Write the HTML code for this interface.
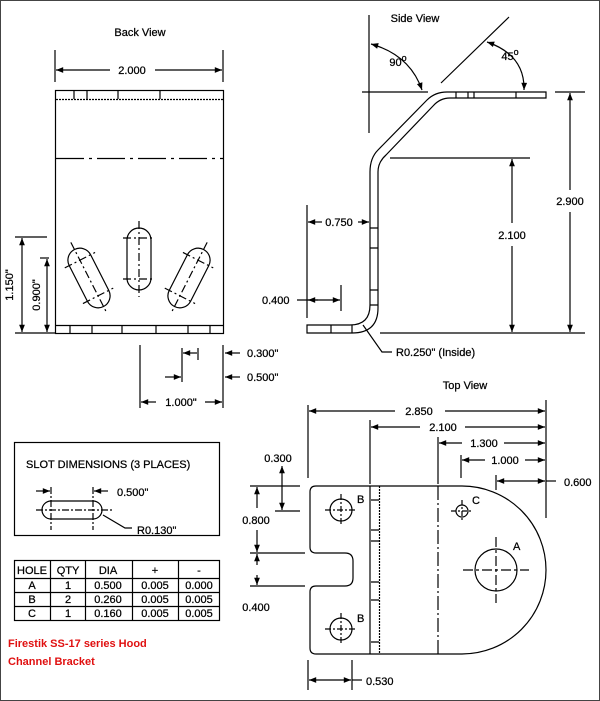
<!DOCTYPE html>
<html><head><style>
html,body{margin:0;padding:0;background:#fff}
svg{display:block}
text{font-family:"Liberation Sans",sans-serif;font-size:11px;fill:#000;stroke:#000;stroke-width:0.25}
</style></head><body>
<svg width="600" height="701" viewBox="0 0 600 701" xmlns="http://www.w3.org/2000/svg">
<defs>
<marker id="a" viewBox="0 0 10 10" refX="10" refY="5" markerWidth="7" markerHeight="6" orient="auto-start-reverse"><path d="M0,1 L10,5 L0,9 z" fill="#000"/></marker>
</defs>
<rect x="0.5" y="0.5" width="599" height="700" fill="#fff" stroke="#444"/>
<g stroke="#000" stroke-width="1.2" fill="none">
<!-- BACK VIEW -->
<line x1="55" y1="50" x2="55" y2="82"/><line x1="223" y1="50" x2="223" y2="82"/>
<line x1="56" y1="70" x2="110" y2="70" marker-start="url(#a)"/><line x1="155" y1="70" x2="222" y2="70" marker-end="url(#a)"/>
<rect x="55.5" y="90.5" width="168" height="243"/>
<line x1="56" y1="99.5" x2="223" y2="99.5" stroke-dasharray="2,1"/>
<path d="M74,91v8M87,91v8M118,91v8M160,91v8"/>
<line x1="56" y1="158.5" x2="223" y2="158.5" stroke-dasharray="28,5,3,5"/>
<line x1="56" y1="325.5" x2="223" y2="325.5"/>
<path d="M70,326v7M92,326v7M122,326v7M156,326v7M188,326v7M210,326v7"/>
<rect x="127" y="228" width="24" height="62" rx="12"/>
<path d="M139,221v76M123,238h32M123,279h32" stroke-dasharray="8,3,2,3"/>
<g transform="rotate(-27 89 278)"><rect x="77" y="246" width="24" height="64" rx="12"/><path d="M89,238v80M72,258h34M72,298h34" stroke-dasharray="8,3,2,3"/></g>
<g transform="rotate(27 189 278)"><rect x="177" y="246" width="24" height="64" rx="12"/><path d="M189,238v80M172,258h34M172,298h34" stroke-dasharray="8,3,2,3"/></g>
<line x1="15" y1="237" x2="47" y2="237"/><line x1="40" y1="258" x2="49" y2="258"/><line x1="15" y1="333" x2="55" y2="333"/>
<line x1="22" y1="238" x2="22" y2="332" marker-start="url(#a)" marker-end="url(#a)"/>
<line x1="47" y1="259" x2="47" y2="332" marker-start="url(#a)" marker-end="url(#a)"/>
<line x1="140" y1="345" x2="140" y2="408"/><line x1="223" y1="345" x2="223" y2="408"/>
<line x1="141" y1="402" x2="156" y2="402" marker-start="url(#a)"/><line x1="205" y1="402" x2="222" y2="402" marker-end="url(#a)"/>
<line x1="182" y1="348" x2="182" y2="382"/><line x1="198" y1="348" x2="198" y2="360"/>
<line x1="183" y1="353" x2="197" y2="353" marker-start="url(#a)"/>
<line x1="165" y1="377" x2="181" y2="377" marker-end="url(#a)"/>
<line x1="240" y1="353" x2="225" y2="353" marker-end="url(#a)"/>
<line x1="240" y1="377" x2="225" y2="377" marker-end="url(#a)"/>
<!-- SIDE VIEW -->
<line x1="369" y1="15" x2="369" y2="133"/><line x1="362" y1="92" x2="428" y2="92"/>
<path d="M371,44 Q410,55 422,90" marker-start="url(#a)" marker-end="url(#a)"/>
<line x1="441" y1="83" x2="509" y2="17"/>
<path d="M487,42 Q525,55 524,90" marker-start="url(#a)" marker-end="url(#a)"/>
<path d="M546,92 H447 Q435,92 427,100 L378,150 Q370,158 370,172 V305 Q370,325 350,325 H307 V333 H352 Q378,333 378,308 V172 Q378,162 386,155 L433,106 Q440,98 450,98 H546 Z"/>
<path d="M456,92v6M468,92v6M474,92v6M516,92v6M370,228h8M370,248h8M370,290h8M370,305h8M331,325v8M352,325v8"/>
<line x1="555" y1="92" x2="585" y2="92"/><line x1="380" y1="333" x2="585" y2="333"/>
<line x1="570" y1="93" x2="570" y2="190" marker-start="url(#a)"/><line x1="570" y1="212" x2="570" y2="332" marker-end="url(#a)"/>
<line x1="390" y1="158" x2="530" y2="158"/>
<line x1="512" y1="159" x2="512" y2="223" marker-start="url(#a)"/><line x1="512" y1="246" x2="512" y2="332" marker-end="url(#a)"/>
<line x1="307" y1="205" x2="307" y2="318"/>
<line x1="308" y1="222" x2="322" y2="222" marker-start="url(#a)"/><line x1="358" y1="222" x2="369" y2="222" marker-end="url(#a)"/>
<line x1="341" y1="285" x2="341" y2="311"/>
<line x1="297" y1="300" x2="340" y2="300" marker-end="url(#a)"/><line x1="318" y1="300" x2="308" y2="300" marker-end="url(#a)"/>
<path d="M363,325 L382,352 H392"/>
<!-- TOP VIEW -->
<line x1="308" y1="405" x2="308" y2="478"/><line x1="546" y1="400" x2="546" y2="518"/>
<line x1="370" y1="420" x2="370" y2="484"/><line x1="438" y1="437" x2="438" y2="484"/><line x1="461" y1="455" x2="461" y2="478"/><line x1="496" y1="475" x2="496" y2="490"/>
<line x1="309" y1="411" x2="395" y2="411" marker-start="url(#a)"/><line x1="445" y1="411" x2="545" y2="411" marker-end="url(#a)"/>
<line x1="371" y1="427" x2="420" y2="427" marker-start="url(#a)"/><line x1="465" y1="427" x2="545" y2="427" marker-end="url(#a)"/>
<line x1="439" y1="443" x2="462" y2="443" marker-start="url(#a)"/><line x1="504" y1="443" x2="545" y2="443" marker-end="url(#a)"/>
<line x1="462" y1="460" x2="485" y2="460" marker-start="url(#a)"/><line x1="525" y1="460" x2="545" y2="460" marker-end="url(#a)"/>
<line x1="497" y1="481" x2="545" y2="481" marker-start="url(#a)" marker-end="url(#a)"/><line x1="546" y1="481" x2="556" y2="481"/>
<path d="M316,486 H462 A84,84 0 0 1 462,654 H316 Q310,654 310,648 V592 Q310,586 316,586 H345 Q353,586 353,578 V561 Q353,553 345,553 H316 Q310,553 310,547 V492 Q310,486 316,486 Z"/>
<line x1="370" y1="486" x2="370" y2="654"/>
<line x1="379.5" y1="486" x2="379.5" y2="654" stroke-dasharray="2,1"/>
<path d="M371,500h8M371,530h8M371,541h8M371,582h8M371,600h8M371,642h8"/>
<line x1="438" y1="486" x2="438" y2="654" stroke-dasharray="14,3,2,3"/>
<circle cx="341" cy="510" r="11"/><path d="M325,510h32M341,494v32" stroke-dasharray="6,2,2,2"/>
<circle cx="341" cy="629" r="11"/><path d="M325,629h32M341,613v32" stroke-dasharray="6,2,2,2"/>
<circle cx="462" cy="511" r="6"/><path d="M451,511h22M462,500v22" stroke-dasharray="5,2,2,2"/>
<circle cx="496" cy="570" r="21"/><path d="M463,570h66M496,537v66" stroke-dasharray="10,3,3,3"/>
<line x1="250" y1="486" x2="300" y2="486"/><line x1="275" y1="511" x2="300" y2="511"/>
<line x1="250" y1="553" x2="305" y2="553"/><line x1="250" y1="586" x2="305" y2="586"/>
<line x1="282" y1="466" x2="282" y2="510" marker-start="url(#a)" marker-end="url(#a)"/>
<line x1="257" y1="487" x2="257" y2="508" marker-start="url(#a)"/><line x1="257" y1="530" x2="257" y2="552" marker-end="url(#a)"/>
<line x1="257" y1="565" x2="257" y2="554" marker-end="url(#a)"/><line x1="257" y1="575" x2="257" y2="585" marker-end="url(#a)"/>
<line x1="308" y1="660" x2="308" y2="690"/><line x1="352" y1="660" x2="352" y2="690"/>
<line x1="309" y1="680" x2="351" y2="680" marker-start="url(#a)" marker-end="url(#a)"/><line x1="352" y1="680" x2="362" y2="680"/>
<!-- SLOT BOX -->
<rect x="14.5" y="442.5" width="205" height="93"/>
<rect x="42" y="501" width="60" height="18" rx="9"/>
<path d="M51,487v43M93,487v43M36,510h78" stroke-dasharray="7,2,2,2"/>
<line x1="36" y1="491" x2="50" y2="491" marker-end="url(#a)"/><line x1="108" y1="491" x2="94" y2="491" marker-end="url(#a)"/>
<path d="M103,515 L125,528 H132"/>
<!-- TABLE -->
<rect x="14.5" y="560.5" width="205" height="60"/>
<path d="M14,578.5h206M14,592.5h206M14,606.5h206M50.5,560v60M85.5,560v60M132.5,560v60M178.5,560v60"/>
</g>
<g fill="#fff">
<rect x="555" y="190" width="30" height="22"/><rect x="497" y="223" width="30" height="23"/>
</g>
<text x="140" y="36" text-anchor="middle" font-size="12">Back View</text>
<text x="132" y="74" text-anchor="middle" font-size="12">2.000</text>
<text transform="translate(13,285) rotate(-90)" text-anchor="middle">1.150"</text>
<text transform="translate(40,295) rotate(-90)" text-anchor="middle">0.900"</text>
<text x="181" y="406" text-anchor="middle">1.000"</text>
<text x="247" y="357">0.300"</text>
<text x="247" y="381">0.500"</text>
<text x="415" y="22" text-anchor="middle" font-size="12">Side View</text>
<text x="398" y="66" text-anchor="middle" font-size="12">90<tspan font-size="9" dy="-5">o</tspan></text>
<text x="510" y="60" text-anchor="middle" font-size="12">45<tspan font-size="9" dy="-5">o</tspan></text>
<text x="570" y="205" text-anchor="middle" font-size="12">2.900</text>
<text x="512" y="239" text-anchor="middle" font-size="12">2.100</text>
<text x="339" y="226" text-anchor="middle" font-size="12">0.750</text>
<text x="262" y="304" font-size="12">0.400</text>
<text x="396" y="356" font-size="12">R0.250" (Inside)</text>
<text x="465" y="389" text-anchor="middle" font-size="12">Top View</text>
<text x="419" y="415" text-anchor="middle" font-size="12">2.850</text>
<text x="443" y="431" text-anchor="middle" font-size="12">2.100</text>
<text x="484" y="447" text-anchor="middle" font-size="12">1.300</text>
<text x="505" y="464" text-anchor="middle" font-size="12">1.000</text>
<text x="564" y="486" font-size="12">0.600</text>
<text x="278" y="462" text-anchor="middle" font-size="12">0.300</text>
<text x="256" y="524" text-anchor="middle" font-size="12">0.800</text>
<text x="256" y="611" text-anchor="middle" font-size="12">0.400</text>
<text x="366" y="685" font-size="12">0.530</text>
<text x="357" y="503" font-size="12">B</text>
<text x="357" y="622" font-size="12">B</text>
<text x="472" y="504" font-size="12">C</text>
<text x="513" y="550" font-size="12">A</text>
<text x="26" y="468" font-size="12">SLOT DIMENSIONS (3 PLACES)</text>
<text x="117" y="496" font-size="12">0.500"</text>
<text x="137" y="534" font-size="12">R0.130"</text>
<g font-size="12.5" text-anchor="middle">
<text x="32" y="574">HOLE</text><text x="68" y="574">QTY</text><text x="108" y="574">DIA</text><text x="155" y="574">+</text><text x="199" y="574">-</text>
<text x="32" y="589">A</text><text x="68" y="589">1</text><text x="108" y="589">0.500</text><text x="155" y="589">0.005</text><text x="199" y="589">0.000</text>
<text x="32" y="603">B</text><text x="68" y="603">2</text><text x="108" y="603">0.260</text><text x="155" y="603">0.005</text><text x="199" y="603">0.005</text>
<text x="32" y="617">C</text><text x="68" y="617">1</text><text x="108" y="617">0.160</text><text x="155" y="617">0.005</text><text x="199" y="617">0.005</text>
</g>
<text x="8" y="647" font-size="14.5" font-weight="bold" style="fill:#e01010;stroke:none">Firestik SS-17 series Hood</text>
<text x="8" y="665" font-size="14.5" font-weight="bold" style="fill:#e01010;stroke:none">Channel Bracket</text>
</svg>
</body></html>
